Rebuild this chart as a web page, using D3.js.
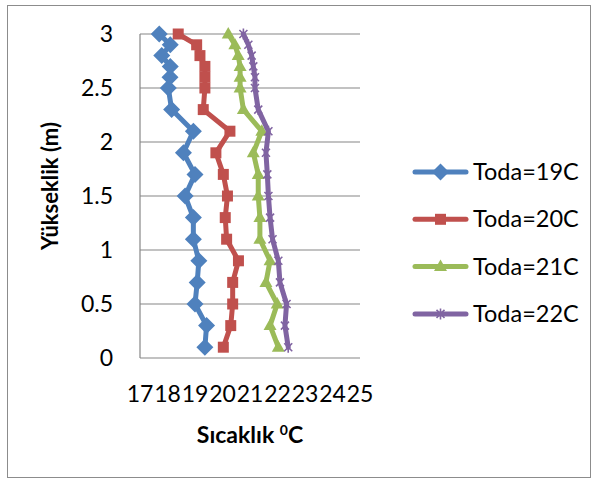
<!DOCTYPE html>
<html>
<head>
<meta charset="utf-8">
<script src="https://cdn.jsdelivr.net/npm/d3@7"></script>
<style>
  body { margin: 0; background: #fff; }
  text { font-family: Lato, "Open Sans", sans-serif; fill: #000; }
</style>
</head>
<body>
<svg id="chart" width="598" height="482"></svg>
<script>
const heights = [0.1, 0.3, 0.5, 0.7, 0.9, 1.1, 1.3, 1.5, 1.7, 1.9, 2.1, 2.3, 2.5, 2.6, 2.7, 2.8, 2.9, 3.0];
const toda19 = [19.36, 19.42, 19.0, 19.08, 19.14, 18.94, 18.94, 18.64, 19.0, 18.58, 18.94, 18.15, 18.03, 18.09, 18.1, 17.79, 18.1, 17.7];
const toda20 = [20.03, 20.3, 20.37, 20.37, 20.58, 20.15, 20.1, 20.18, 20.03, 19.76, 20.27, 19.3, 19.36, 19.36, 19.36, 19.18, 19.06, 18.39];
const toda21 = [22.03, 21.73, 21.99, 21.58, 21.73, 21.36, 21.36, 21.3, 21.3, 21.12, 21.43, 20.76, 20.64, 20.64, 20.64, 20.57, 20.45, 20.21];
const toda22 = [22.39, 22.27, 22.33, 22.09, 22.03, 21.82, 21.73, 21.67, 21.63, 21.58, 21.67, 21.3, 21.18, 21.18, 21.12, 21.06, 20.94, 20.76];
const seriesNames = ["Toda=19C", "Toda=20C", "Toda=21C", "Toda=22C"];
const xTicks = [17, 18, 19, 20, 21, 22, 23, 24, 25];
const yTicks = [0, 0.5, 1, 1.5, 2, 2.5, 3];

const colors = ["#4f81bd", "#c0504d", "#9bbb59", "#8064a2"];
const markers = ["diamond", "square", "triangle", "star"];
const series = [toda19, toda20, toda21, toda22].map((vals, i) => ({
    name: seriesNames[i],
    color: colors[i],
    marker: markers[i],
    points: vals.map((v, j) => ({ x: v, y: heights[j] }))
}));

const svg = d3.select("#chart");

// outer chart border
svg.append("rect")
    .attr("x", 7.5).attr("y", 5.5)
    .attr("width", 583).attr("height", 472)
    .attr("fill", "none")
    .attr("stroke", "#8c8c8c");

const x = d3.scaleLinear().domain([17, 25]).range([140, 360]);
const y = d3.scaleLinear().domain([0, 3]).range([358, 34]);

// gridlines
svg.append("g")
    .selectAll("line")
    .data(yTicks)
    .join("line")
    .attr("x1", x(17)).attr("x2", x(25))
    .attr("y1", d => y(d)).attr("y2", d => y(d))
    .attr("stroke", "#868686")
    .attr("stroke-width", 1.2);

// y axis line
svg.append("line")
    .attr("x1", x(17)).attr("x2", x(17))
    .attr("y1", y(0)).attr("y2", y(3))
    .attr("stroke", "#868686")
    .attr("stroke-width", 1.2);

// tick labels
svg.append("g")
    .selectAll("text")
    .data(yTicks)
    .join("text")
    .attr("x", 113)
    .attr("y", d => y(d) + 8)
    .attr("text-anchor", "end")
    .attr("font-size", 23)
    .text(d => d3.format("~g")(d));

svg.append("g")
    .selectAll("text")
    .data(xTicks)
    .join("text")
    .attr("x", d => x(d))
    .attr("y", 402)
    .attr("text-anchor", "middle")
    .attr("font-size", 23)
    .text(d => d);

// axis titles
svg.append("text")
    .attr("transform", "translate(58,186) rotate(-90)")
    .attr("text-anchor", "middle")
    .attr("font-size", 22)
    .attr("font-weight", "bold")
    .text("Yükseklik (m)");

const xTitle = svg.append("text")
    .attr("x", 250)
    .attr("y", 443)
    .attr("text-anchor", "middle")
    .attr("font-size", 23)
    .attr("font-weight", "bold");
xTitle.append("tspan").text("Sıcaklık ");
xTitle.append("tspan").attr("font-size", 14).attr("dy", -8).text("0");
xTitle.append("tspan").attr("dy", 8).text("C");

function markerPath(type) {
    if (type === "diamond") return "M0,-8.5L8.5,0L0,8.5L-8.5,0Z";
    if (type === "square") return "M-5.5,-5.5H5.5V5.5H-5.5Z";
    if (type === "triangle") return "M0,-7L6.5,4.5L-6.5,4.5Z";
    return "M-4,-4L4,4M-4,4L4,-4M0,-5.5L0,5.5";
}

function drawMarker(g, type, color) {
    const p = g.append("path").attr("d", markerPath(type));
    if (type === "star") {
        p.attr("fill", "none").attr("stroke", color).attr("stroke-width", 1.6);
    } else {
        p.attr("fill", color);
    }
}

const line = d3.line().x(d => x(d.x)).y(d => y(d.y));

const seriesG = svg.append("g")
    .selectAll("g")
    .data(series)
    .join("g");

seriesG.append("path")
    .attr("d", d => line(d.points))
    .attr("fill", "none")
    .attr("stroke", d => d.color)
    .attr("stroke-width", 5)
    .attr("stroke-linejoin", "round")
    .attr("stroke-linecap", "round");

seriesG.each(function (s) {
    d3.select(this).selectAll("g.pt")
        .data(s.points)
        .join("g")
        .attr("class", "pt")
        .attr("transform", d => `translate(${x(d.x)},${y(d.y)})`)
        .each(function () { drawMarker(d3.select(this), s.marker, s.color); });
});

// legend
const legend = svg.append("g")
    .selectAll("g")
    .data(series)
    .join("g")
    .attr("transform", (d, i) => `translate(0,${172 + i * 47.3})`);

legend.append("line")
    .attr("x1", 415).attr("x2", 466)
    .attr("y1", 0).attr("y2", 0)
    .attr("stroke", d => d.color)
    .attr("stroke-width", 5)
    .attr("stroke-linecap", "round");

legend.each(function (d) {
    const g = d3.select(this).append("g").attr("transform", "translate(440.5,0)");
    drawMarker(g, d.marker, d.color);
});

legend.append("text")
    .attr("x", 473)
    .attr("y", 8)
    .attr("font-size", 23.5)
    .text(d => d.name);
</script>
</body>
</html>
